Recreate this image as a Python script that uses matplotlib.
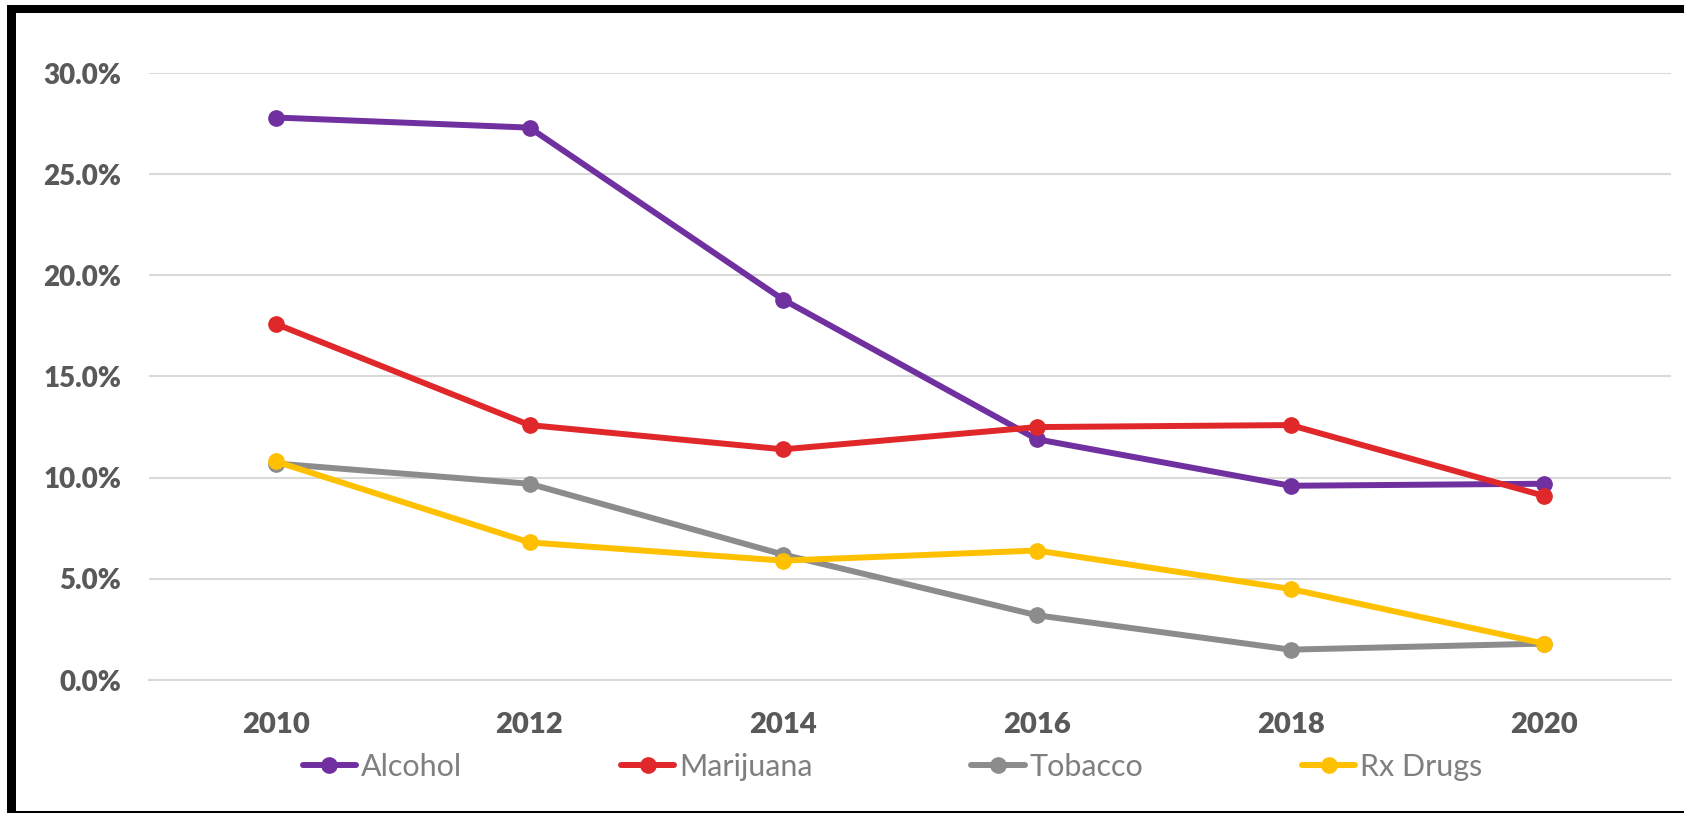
import numpy as np
import matplotlib.pyplot as plt
from matplotlib.patches import Rectangle
from matplotlib.ticker import PercentFormatter

plt.rcParams['font.family'] = ['Lato', 'DejaVu Sans']

years = ['2010', '2012', '2014', '2016', '2018', '2020']
alcohol = [27.8, 27.3, 18.8, 11.9, 9.6, 9.7]
marijuana = [17.6, 12.6, 11.4, 12.5, 12.6, 9.1]
tobacco = [10.7, 9.7, 6.2, 3.2, 1.5, 1.8]
rx_drugs = [10.8, 6.8, 5.9, 6.4, 4.5, 1.8]

series = [
    ('Alcohol', alcohol, '#7030A0'),
    ('Marijuana', marijuana, '#E0282A'),
    ('Tobacco', tobacco, '#8C8C8C'),
    ('Rx Drugs', rx_drugs, '#FFC000'),
]

W, H = 1684, 813
fig = plt.figure(figsize=(W / 100, H / 100), dpi=100)
ax = fig.add_axes([149 / W, 1 - 680 / H, (1671 - 149) / W, (680 - 73) / H])

x = np.arange(len(years))
for name, vals, col in series:
    ax.plot(x, vals, color=col, lw=4.3, marker='o', markersize=11,
            label=name, solid_capstyle='round', zorder=3)

ax.set_xlim(-0.5, len(years) - 0.5)
ax.set_ylim(0, 30)
ax.set_xticks(x)
ax.set_xticklabels(years)
ax.set_yticks(np.arange(0, 31, 5))
ax.yaxis.set_major_formatter(PercentFormatter(decimals=1))
ax.grid(axis='y', color='#D9D9D9', lw=1.5, zorder=0)
ax.set_axisbelow(True)
for s in ax.spines.values():
    s.set_visible(False)
ax.spines['bottom'].set_visible(True)
ax.spines['bottom'].set_color('#D9D9D9')
ax.spines['bottom'].set_linewidth(1.5)
ax.tick_params(length=0, colors='#595959')
ax.tick_params(axis='x', pad=23, labelsize=21)
ax.tick_params(axis='y', pad=20, labelsize=20)
for lab in ax.get_xticklabels() + ax.get_yticklabels():
    lab.set_fontweight('heavy')

leg = fig.legend(loc='center', bbox_to_anchor=(0.53, 1 - 767 / H), ncol=4,
                 frameon=False, fontsize=22, handlelength=1.75,
                 handletextpad=0.15, columnspacing=5.2)
for t in leg.get_texts():
    t.set_color('#7F7F7F')

# black frame (left, top, bottom)
fig.add_artist(Rectangle((7 / W, 0), 9 / W, 1 - 5 / H, transform=fig.transFigure,
                         color='black', lw=0))
fig.add_artist(Rectangle((7 / W, 1 - 13 / H), 1, 8 / H, transform=fig.transFigure,
                         color='black', lw=0))
fig.add_artist(Rectangle((7 / W, 0), 1, 2 / H, transform=fig.transFigure,
                         color='black', lw=0))

fig.savefig('out.png', dpi=100)
